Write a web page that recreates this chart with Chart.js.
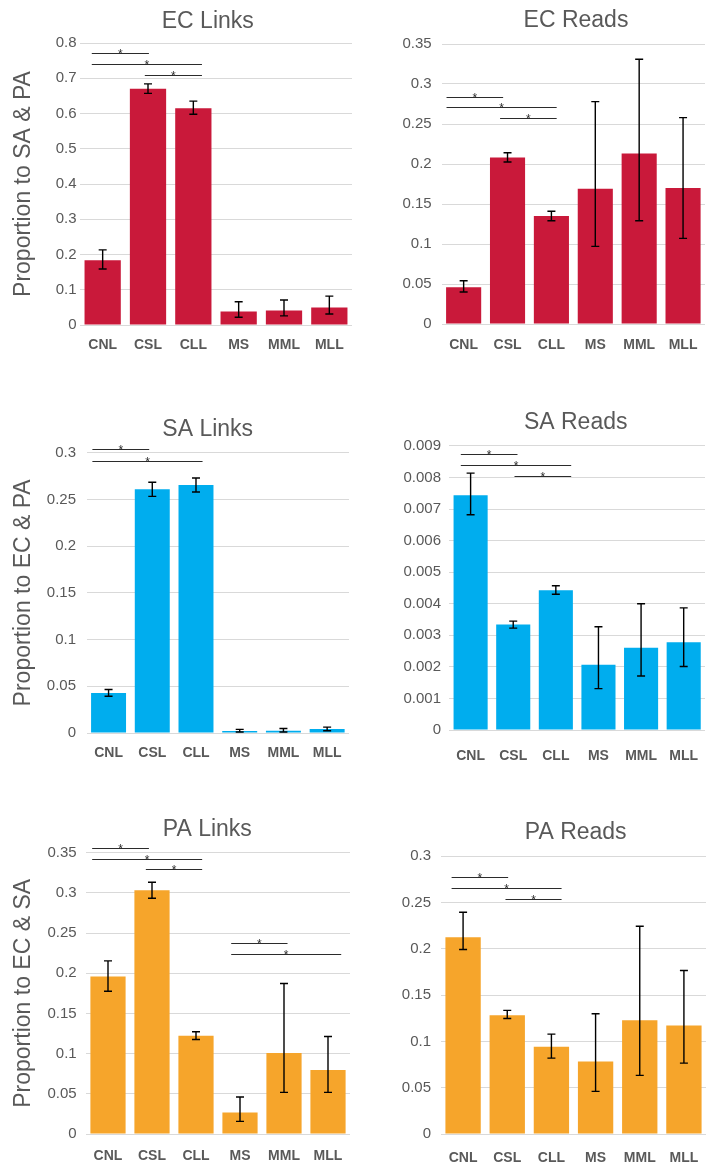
<!DOCTYPE html>
<html>
<head>
<meta charset="utf-8">
<title>Links and reads by group</title>
<script src="https://cdn.jsdelivr.net/npm/chart.js@4.4.1/dist/chart.umd.min.js"></script>
<style>
  html, body { margin: 0; padding: 0; background: #ffffff; }
  body { position: relative; width: 711px; height: 1167px; overflow: hidden; }
  canvas { position: absolute; }
</style>
</head>
<body>
<script>
// ---- data ----------------------------------------------------------------
const categories = ['CNL', 'CSL', 'CLL', 'MS', 'MML', 'MLL'];

const ecLinksMean = [0.184, 0.670, 0.615, 0.038, 0.041, 0.050];
const ecLinksLow  = [0.159, 0.657, 0.598, 0.022, 0.026, 0.031];
const ecLinksHigh = [0.213, 0.684, 0.635, 0.066, 0.071, 0.082];

const ecReadsMean = [0.046, 0.208, 0.135, 0.169, 0.213, 0.170];
const ecReadsLow  = [0.040, 0.2025, 0.129, 0.097, 0.129, 0.107];
const ecReadsHigh = [0.054, 0.214, 0.141, 0.278, 0.331, 0.258];

const saLinksMean = [0.0429, 0.2608, 0.2654, 0.0022, 0.0025, 0.0043];
const saLinksLow  = [0.0393, 0.2533, 0.2579, 0.0011, 0.0010, 0.0024];
const saLinksHigh = [0.0465, 0.2683, 0.2729, 0.0039, 0.0048, 0.0063];

const saReadsMean = [0.00744, 0.00334, 0.00443, 0.00207, 0.00261, 0.00278];
const saReadsLow  = [0.00682, 0.00323, 0.00430, 0.00131, 0.00171, 0.00201];
const saReadsHigh = [0.00814, 0.00345, 0.00457, 0.00327, 0.00400, 0.00387];

const paLinksMean = [0.196, 0.3032, 0.1222, 0.0269, 0.1007, 0.0795];
const paLinksLow  = [0.1777, 0.2933, 0.1176, 0.0157, 0.0518, 0.0518];
const paLinksHigh = [0.2154, 0.3132, 0.1272, 0.046, 0.1872, 0.1214];

const paReadsMean = [0.2126, 0.1284, 0.0942, 0.0784, 0.123, 0.1173];
const paReadsLow  = [0.1993, 0.1248, 0.082, 0.046, 0.0633, 0.0766];
const paReadsHigh = [0.2396, 0.1335, 0.1079, 0.1299, 0.2245, 0.1766];

// significance brackets: [from category position, to category position, level]
const ecLinksSig = [[-0.24, 1.02, 0.772], [-0.24, 2.19, 0.740], [0.93, 2.19, 0.709]];
const ecReadsSig = [[-0.39, 0.90, 0.284], [-0.39, 2.12, 0.271], [0.83, 2.12, 0.258]];
const saLinksSig = [[-0.37, 0.93, 0.3036], [-0.37, 2.15, 0.2914]];
const saReadsSig = [[-0.23, 1.10, 0.00875], [-0.23, 2.36, 0.00839], [1.03, 2.36, 0.00805]];
const paLinksSig = [[-0.36, 0.93, 0.3562], [-0.36, 2.14, 0.3426], [0.86, 2.14, 0.3293],
                    [2.80, 4.08, 0.2382], [2.80, 5.30, 0.2245]];
const paReadsSig = [[-0.26, 1.02, 0.2773], [-0.26, 2.23, 0.2658], [0.96, 2.23, 0.2543]];

// axis ranges
const ecLinksAxis = { max: 0.8, step: 0.1 };
const ecReadsAxis = { max: 0.35, step: 0.05 };
const saLinksAxis = { max: 0.3, step: 0.05 };
const saReadsAxis = { max: 0.009, step: 0.001 };
const paLinksAxis = { max: 0.35, step: 0.05 };
const paReadsAxis = { max: 0.3, step: 0.05 };

// ---- styling ---------------------------------------------------------------
const RED = '#C9193A', BLUE = '#00ADEE', ORANGE = '#F6A52B';
const TEXT = '#595959', GRID = '#D9D9D9';
const FAMILY = "'Liberation Sans', Arial, Helvetica, sans-serif";
const TITLE_SIZE = 23, TICK_SIZE = 15, XLABEL_SIZE = 14, AXIS_TITLE_SIZE = 23;
const X_AXIS_H = 36;

Chart.defaults.font.family = FAMILY;
Chart.defaults.color = TEXT;

// page geometry of each panel (plot box, title centre, label rows)
const panels = [
  { title: 'EC Links', axisTitle: 'Proportion to SA & PA', color: RED,
    mean: ecLinksMean, low: ecLinksLow, high: ecLinksHigh, sig: ecLinksSig, axis: ecLinksAxis,
    frame: { left: 0, top: 0 },
    plotL: 80, plotR: 352, plotT: 43, plotB: 325, titleCx: 207.8, titleCy: 22,
    labelCy: 345, tickRight: 76.5, axisTitleCx: 24 },
  { title: 'EC Reads', axisTitle: '', color: RED,
    mean: ecReadsMean, low: ecReadsLow, high: ecReadsHigh, sig: ecReadsSig, axis: ecReadsAxis,
    frame: { left: 380, top: 0 },
    plotL: 441.7, plotR: 705, plotT: 44, plotB: 324, titleCx: 576, titleCy: 21,
    labelCy: 345, tickRight: 431.7 },
  { title: 'SA Links', axisTitle: 'Proportion to EC & PA', color: BLUE,
    mean: saLinksMean, low: saLinksLow, high: saLinksHigh, sig: saLinksSig, axis: saLinksAxis,
    frame: { left: 0, top: 395 },
    plotL: 86.7, plotR: 349, plotT: 452.7, plotB: 732.7, titleCx: 207.7, titleCy: 429.3,
    labelCy: 753.3, tickRight: 76, axisTitleCx: 24 },
  { title: 'SA Reads', axisTitle: '', color: BLUE,
    mean: saReadsMean, low: saReadsLow, high: saReadsHigh, sig: saReadsSig, axis: saReadsAxis,
    frame: { left: 380, top: 395 },
    plotL: 449.3, plotR: 705, plotT: 446, plotB: 730, titleCx: 575.7, titleCy: 422.7,
    labelCy: 755.7, tickRight: 441 },
  { title: 'PA Links', axisTitle: 'Proportion to EC & SA', color: ORANGE,
    mean: paLinksMean, low: paLinksLow, high: paLinksHigh, sig: paLinksSig, axis: paLinksAxis,
    frame: { left: 0, top: 780 },
    plotL: 86, plotR: 350, plotT: 852.7, plotB: 1134.3, titleCx: 207.3, titleCy: 829.3,
    labelCy: 1156, tickRight: 76.7, axisTitleCx: 24 },
  { title: 'PA Reads', axisTitle: '', color: ORANGE,
    mean: paReadsMean, low: paReadsLow, high: paReadsHigh, sig: paReadsSig, axis: paReadsAxis,
    frame: { left: 380, top: 780 },
    plotL: 441, plotR: 706, plotT: 856.3, plotB: 1134.3, titleCx: 575.7, titleCy: 832.7,
    labelCy: 1158, tickRight: 431 }
];

// error bars and significance brackets, drawn in data space through the scales
function barDecorations(low, high, brackets) {
  return {
    id: 'barDecorations',
    afterDatasetsDraw(chart) {
      const ctx = chart.ctx;
      const xs = chart.scales.x, ys = chart.scales.y;
      const bars = chart.getDatasetMeta(0).data;
      ctx.save();
      ctx.strokeStyle = '#000000';
      ctx.lineWidth = 1.4;
      ctx.lineCap = 'butt';
      bars.forEach((bar, i) => {
        const yh = ys.getPixelForValue(high[i]);
        const yl = ys.getPixelForValue(low[i]);
        ctx.beginPath();
        ctx.moveTo(bar.x, yh); ctx.lineTo(bar.x, yl);
        ctx.moveTo(bar.x - 4, yh); ctx.lineTo(bar.x + 4, yh);
        ctx.moveTo(bar.x - 4, yl); ctx.lineTo(bar.x + 4, yl);
        ctx.stroke();
      });
      ctx.strokeStyle = '#2b2b2b';
      ctx.fillStyle = '#2b2b2b';
      ctx.lineWidth = 1.2;
      ctx.font = '12px ' + FAMILY;
      ctx.textAlign = 'center';
      ctx.textBaseline = 'alphabetic';
      brackets.forEach(([from, to, level]) => {
        const x1 = xs.getPixelForValue(from), x2 = xs.getPixelForValue(to);
        const yy = Math.round(ys.getPixelForValue(level)) + 0.5;
        ctx.beginPath();
        ctx.moveTo(x1, yy); ctx.lineTo(x2, yy);
        ctx.stroke();
        ctx.fillText('*', (x1 + x2) / 2, yy + 4.5);
      });
      ctx.restore();
    }
  };
}

const fmt = v => String(+Number(v).toFixed(6));

panels.forEach(p => {
  const f = p.frame;
  // the title is centred over the y scale box + plot + a blank right-hand box
  const rightEdge = Math.max(2 * p.titleCx - f.left, p.plotR);
  const width = Math.ceil(rightEdge - f.left);
  const spacerW = rightEdge - p.plotR;
  const height = Math.round(p.plotB - f.top + X_AXIS_H);

  const canvas = document.createElement('canvas');
  canvas.width = width;
  canvas.height = height;
  canvas.style.left = f.left + 'px';
  canvas.style.top = f.top + 'px';
  canvas.style.width = width + 'px';
  canvas.style.height = height + 'px';
  document.body.appendChild(canvas);

  const titleLH = TITLE_SIZE * 1.2;
  const axisLH = AXIS_TITLE_SIZE * 1.2;
  const labelLH = XLABEL_SIZE * 1.2;
  const yWidth = p.plotL - f.left;

  new Chart(canvas, {
    type: 'bar',
    data: {
      labels: categories,
      datasets: [{
        data: p.mean,
        backgroundColor: p.color,
        borderWidth: 0,
        barPercentage: 0.8,
        categoryPercentage: 1.0
      }]
    },
    options: {
      responsive: false,
      animation: false,
      devicePixelRatio: 1,
      layout: {
        padding: {
          left: 0,
          right: width - (rightEdge - f.left),
          top: p.titleCy - f.top - titleLH / 2,
          bottom: 0
        }
      },
      plugins: {
        legend: { display: false },
        tooltip: { enabled: false },
        title: {
          display: true,
          text: p.title,
          color: TEXT,
          font: { size: TITLE_SIZE, weight: 'normal', family: FAMILY },
          padding: { top: 0, bottom: p.plotT - (p.titleCy + titleLH / 2) }
        }
      },
      scales: {
        x: {
          grid: { display: false, drawTicks: false },
          border: { display: false },
          ticks: {
            color: TEXT,
            font: { size: XLABEL_SIZE, weight: 'bold', family: FAMILY },
            padding: p.labelCy - p.plotB - labelLH / 2,
            maxRotation: 0,
            autoSkip: false
          },
          afterFit(scale) { scale.height = X_AXIS_H; }
        },
        y: {
          min: 0,
          max: p.axis.max,
          grid: { color: GRID, lineWidth: 1, drawTicks: false },
          border: { display: false },
          ticks: {
            stepSize: p.axis.step,
            color: TEXT,
            font: { size: TICK_SIZE, family: FAMILY },
            padding: p.plotL - p.tickRight,
            callback: fmt
          },
          title: {
            display: !!p.axisTitle,
            text: p.axisTitle,
            color: TEXT,
            font: { size: AXIS_TITLE_SIZE, family: FAMILY },
            padding: { top: (p.axisTitleCx || 0) - f.left - axisLH / 2, bottom: 0 }
          },
          afterFit(scale) { scale.width = yWidth; }
        },
        spacer: {
          type: 'linear',
          position: 'right',
          display: true,
          grid: { display: false, drawTicks: false },
          border: { display: false },
          ticks: { display: false },
          afterFit(scale) { scale.width = spacerW; }
        }
      }
    },
    plugins: [barDecorations(p.low, p.high, p.sig)]
  });
});
</script>
</body>
</html>
